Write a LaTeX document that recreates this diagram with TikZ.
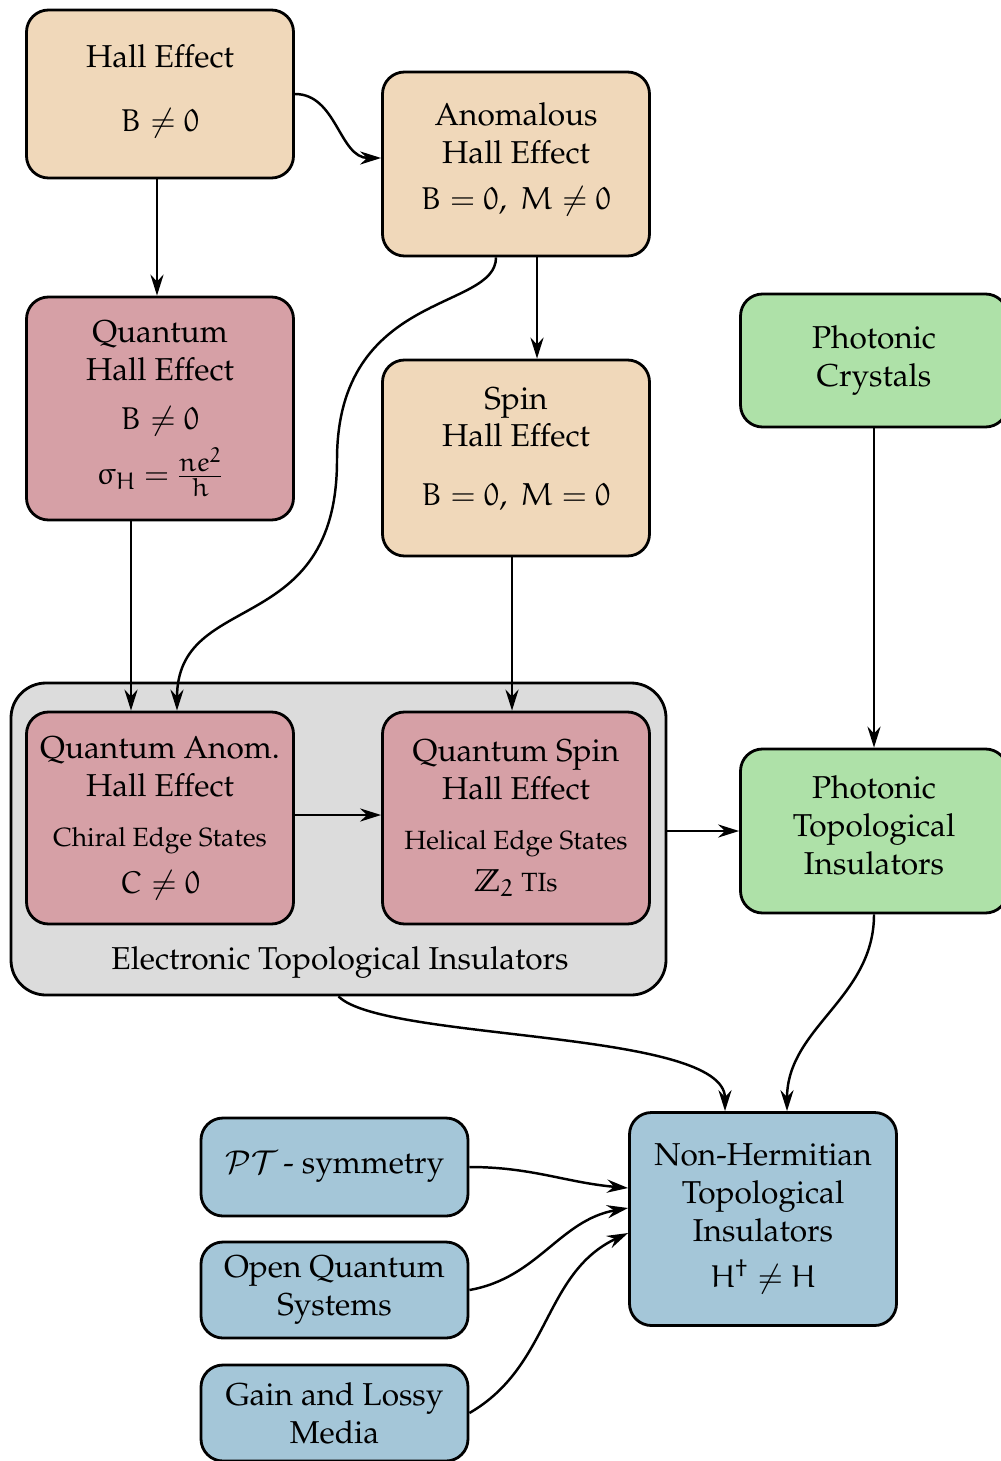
\documentclass[tikz,border=0pt]{standalone}
\usepackage{amssymb}
\IfFileExists{mathpazo.sty}{\usepackage[T1]{fontenc}\usepackage{mathpazo}}{}
\IfFileExists{euler.sty}{\usepackage{euler}}{}
\usetikzlibrary{arrows.meta}

\definecolor{hallpeach}{RGB}{240,216,186}
\definecolor{quantumpink}{RGB}{214,160,166}
\definecolor{photongreen}{RGB}{174,225,168}
\definecolor{nhblue}{RGB}{164,198,216}
\definecolor{groupgrey}{RGB}{220,220,220}

\newcommand{\smalltxt}{\fontsize{15}{18}\selectfont}
\newcommand{\lift}[1]{\rule[-#1]{0pt}{0pt}}

\begin{document}
\begin{tikzpicture}[>={Stealth[length=12pt,width=7.5pt,inset=4pt]}, line width=1.4pt,
  every edge/.append style={->},
  box node/.style={rectangle,rounded corners=0.44cm,draw,line width=1.6pt,minimum width=5.34cm,align=center,inner sep=2pt,font=\fontsize{18}{21.6}\selectfont},
  hall node/.style={box node,fill=hallpeach},
  quantum node/.style={box node,fill=quantumpink},
  photon node/.style={box node,fill=photongreen},
  nh node/.style={box node,fill=nhblue},
  group node/.style={rectangle,rounded corners=0.7cm,draw,line width=1.6pt,fill=groupgrey,minimum width=13.1cm,minimum height=6.24cm}]
\useasboundingbox (0,0) rectangle (20,-29.22);
\begin{scope}
\node[group node] (eti) at (6.77,-16.78) {};%container
\node[font=\fontsize{18}{21.6}\selectfont] (etilabel) at (6.8,-19.26) {Electronic Topological Insulators};
\end{scope}
\begin{scope}
\node[hall node,minimum height=3.36cm] (he) at (3.2,-1.88) {Hall Effect\\[0.52cm] $B\neq0$\lift{0.24cm}};%1
\node[hall node,minimum height=3.68cm] (ahe) at (10.32,-3.28) {Anomalous\\Hall Effect\\[0.16cm] $B=0,\ M\neq0$\lift{0.3cm}};%2
\node[quantum node,minimum height=4.46cm] (qhe) at (3.2,-8.17) {Quantum\\Hall Effect\\[0.22cm] $B\neq0$\\[0.2cm] $\sigma_H=\frac{\mbox{\smalltxt$ne^{\mbox{\fontsize{12}{12}\selectfont$2$}}$}}{\mbox{\smalltxt$h$}}$};%3
\node[hall node,minimum height=3.92cm] (she) at (10.32,-9.16) {Spin\\Hall Effect\\[0.42cm] $B=0,\ M=0$\lift{0.46cm}};%4
\node[photon node,minimum height=2.66cm] (pc) at (17.48,-7.21) {Photonic\\Crystals};%5
\node[quantum node,minimum height=4.24cm] (qahe) at (3.2,-16.36) {Quantum Anom.\\Hall Effect\\[0.24cm] {\smalltxt Chiral Edge States}\\[0.18cm] $C\neq0$};%6
\node[quantum node,minimum height=4.24cm] (qshe) at (10.32,-16.36) {Quantum Spin\\Hall Effect\\[0.24cm] {\smalltxt Helical Edge States}\\[0.08cm] $\mathbb{Z}_2$ {\smalltxt TIs}};%7
\node[photon node,minimum height=3.28cm] (pti) at (17.48,-16.62) {Photonic\\Topological\\Insulators\lift{0.24cm}};%8
\node[nh node,minimum height=4.26cm] (nh) at (15.26,-24.38) {Non-Hermitian\\Topological\\Insulators\\[0.16cm] $H^\dagger\neq H$};%9
\node[nh node,minimum height=1.96cm] (pt) at (6.69,-23.34) {$\mathcal{PT}$\,- symmetry};%10
\node[nh node,minimum height=1.92cm] (oqs) at (6.69,-25.8) {Open Quantum\\Systems};%11
\node[nh node,minimum height=1.92cm] (glm) at (6.69,-28.26) {Gain and Lossy\\Media};%12
\end{scope}
\coordinate (bend) at (6.74,-9.2);
\begin{scope}
\draw (he.east) edge[out=0,in=180] ([yshift=0.12cm]ahe.west);
\draw ([xshift=-0.06cm]he.south) edge ([xshift=-0.06cm]qhe.north);
\draw ([xshift=0.42cm]ahe.south) edge ([xshift=0.42cm]she.north);
\draw[->] ([xshift=-0.4cm]ahe.south) .. controls +(0,-1.08) and +(0,3.4) .. (bend) .. controls +(0,-3.6) and +(0,2.44) .. ([xshift=0.34cm]qahe.north);
\draw ([xshift=-0.58cm]qhe.south) edge ([xshift=-0.58cm]qahe.north);
\draw ([xshift=-0.08cm]she.south) edge ([xshift=-0.08cm]qshe.north);
\draw ([yshift=0.06cm]qahe.east) edge ([yshift=0.06cm]qshe.west);
\draw (eti.east |- pti.west) edge (pti.west);
\draw (pc.south) edge (pti.north);
\draw (pti.south) edge[out=-90,in=90] ([xshift=0.48cm]nh.north);
\draw[->] (eti.south) .. controls +(0.9,-0.9) and +(0,1.64) .. ([xshift=-0.76cm]nh.north);
\draw (pt.east) edge[out=0,in=175] ([yshift=0.62cm]nh.west);
\draw (oqs.east) edge[out=10,in=190] ([yshift=0.22cm]nh.west);
\draw (glm.east) edge[out=30,in=205] ([yshift=-0.28cm]nh.west);
\end{scope}
\end{tikzpicture}
\end{document}
